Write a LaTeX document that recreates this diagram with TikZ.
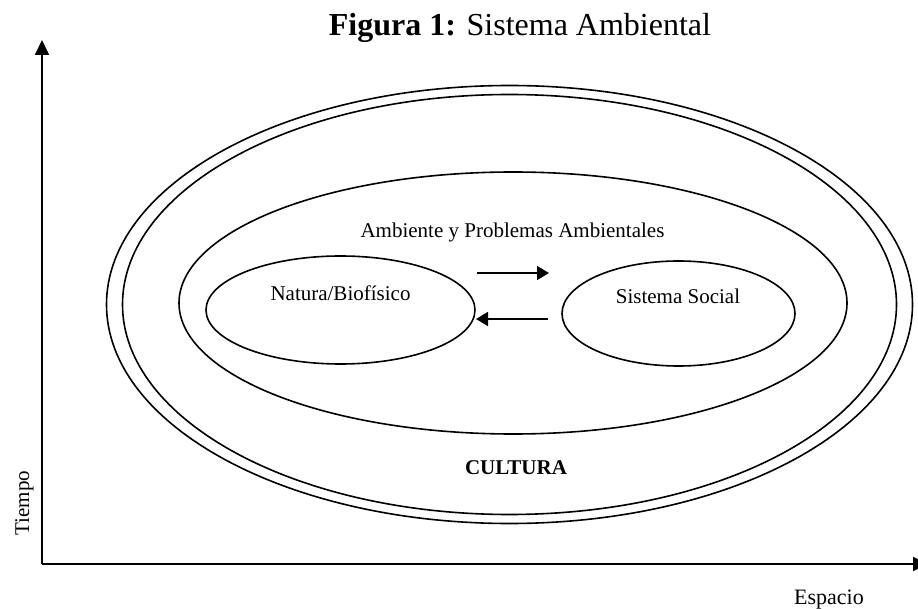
\documentclass[tikz,border=0pt]{standalone}
\usepackage{fontspec}
\setmainfont{Liberation Serif}
\usetikzlibrary{arrows.meta,shapes.geometric}
\begin{document}
\begin{tikzpicture}[x=1pt,y=-1pt,
  ring/.style={draw,line width=1.6pt,ellipse,inner sep=0pt},
  lbl/.style={inner sep=0pt,font=\fontsize{21}{21}\selectfont},
  flow/.style={line width=1.8pt,-{Triangle[length=12pt,width=14pt]}},
  axis/.style={line width=1.8pt,-{Triangle[length=15pt,width=14pt]}}]
\useasboundingbox (0,0) rectangle (918,609);
% axes
\coordinate (o) at (42,564);
\coordinate (ytop) at (42,40);
\coordinate (xend) at (928,564);
\draw[axis] (o) -- (ytop);
\draw[axis] (o) -- (xend);
\node[lbl,rotate=90,anchor=base] (tiempo) at (29,503) {Tiempo};
\node[lbl,anchor=base,font=\fontsize{22}{22}\selectfont] (espacio) at (829,604) {Espacio};
% title
\node[inner sep=0pt,anchor=base,font=\fontsize{32}{32}\selectfont] (title) at (520,36) {\textbf{Figura 1:} Sistema Ambiental};
% nested ellipses
\node[ring,minimum width=806pt,minimum height=438pt] (cult1) at (509.5,304.5) {};
\node[ring,minimum width=774pt,minimum height=420pt] (cult2) at (509.5,304.5) {};
\node[ring,minimum width=668pt,minimum height=262pt] (amb) at (513,303) {};
\node[ring,minimum width=269pt,minimum height=108pt] (nat) at (340.5,310) {};
\node[ring,minimum width=233pt,minimum height=105pt] (soc) at (678.5,313.5) {};
% labels
\node[lbl] (natl) at (340.5,293) {Natura/Biofísico};
\node[lbl] (socl) at (678,296) {Sistema Social};
\node[lbl] (ambl) at (512.5,232) {Ambiente y Problemas Ambientales};
\node[lbl,font=\fontsize{21}{21}\selectfont\bfseries,anchor=base] (cultl) at (516,474) {CULTURA};
% interaction arrows
\coordinate (a1) at (477,273);
\coordinate (a2) at (549,273);
\coordinate (b1) at (548,319);
\coordinate (b2) at (476,319);
\draw[flow] (a1) -- (a2);
\draw[flow] (b1) -- (b2);
\end{tikzpicture}
\end{document}
